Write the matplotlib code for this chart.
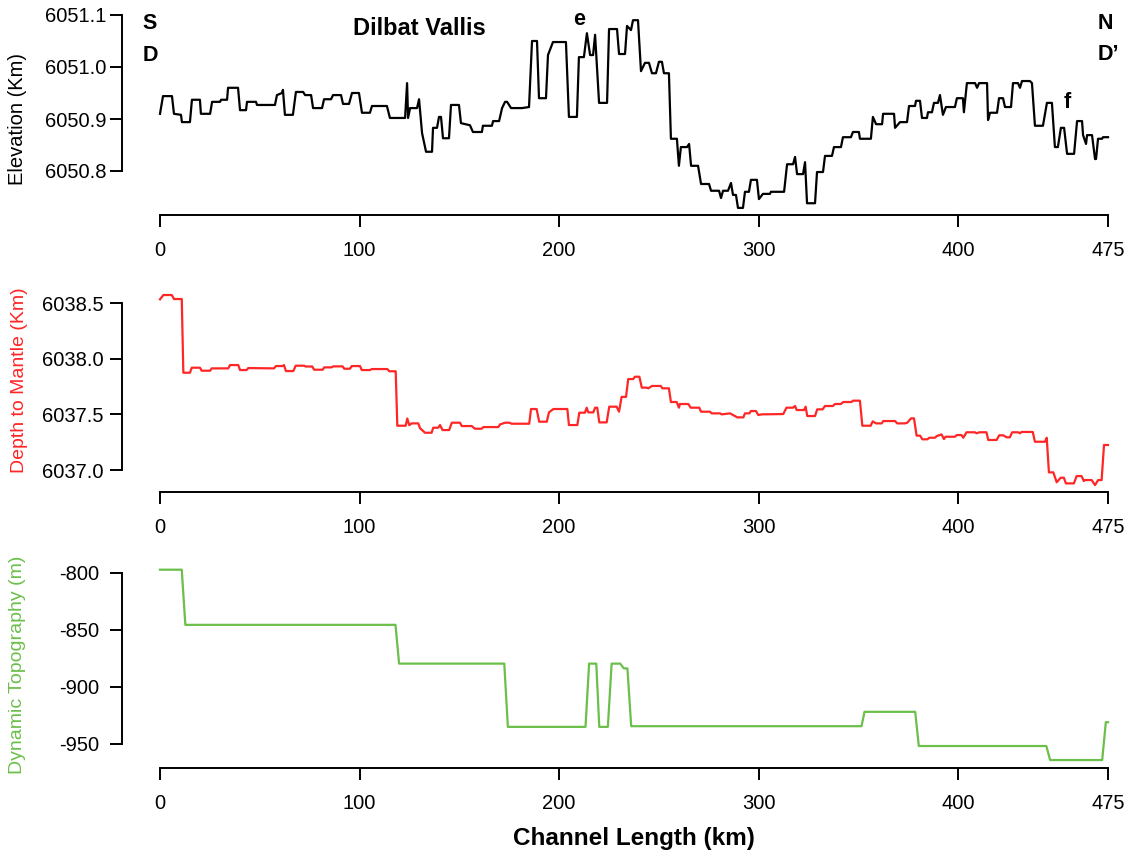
import matplotlib
matplotlib.use("Agg")
import matplotlib.pyplot as plt

plt.rcParams['font.family'] = ['Liberation Sans', 'DejaVu Sans']
plt.rcParams['axes.unicode_minus'] = False

# (channel length km, elevation km) vertices of the Dilbat Vallis profile
elev_profile = [
    (0.0, 6050.910), (1.5, 6050.944), (6.0, 6050.944), (7.0, 6050.910), (10.5, 6050.908),
    (11.0, 6050.894), (15.0, 6050.894), (16.0, 6050.937), (20.0, 6050.937), (20.5, 6050.910),
    (25.1, 6050.910), (26.1, 6050.933), (30.1, 6050.933), (30.6, 6050.937), (33.6, 6050.937),
    (34.1, 6050.960), (39.1, 6050.960), (40.1, 6050.917), (43.1, 6050.917), (43.6, 6050.933),
    (48.1, 6050.933), (48.6, 6050.927), (57.6, 6050.927), (58.6, 6050.946), (61.1, 6050.950),
    (61.6, 6050.956), (62.6, 6050.908), (66.6, 6050.908), (68.1, 6050.952), (71.7, 6050.952),
    (72.7, 6050.946), (75.7, 6050.946), (76.7, 6050.921), (81.2, 6050.921), (82.2, 6050.938),
    (85.7, 6050.938), (86.7, 6050.946), (90.7, 6050.946), (91.7, 6050.929), (94.7, 6050.929),
    (96.2, 6050.950), (99.7, 6050.950), (101.2, 6050.912), (105.2, 6050.912), (106.2, 6050.925),
    (113.7, 6050.925), (115.2, 6050.902), (122.8, 6050.902), (123.8, 6050.969), (124.3, 6050.902),
    (125.3, 6050.921), (128.8, 6050.921), (129.8, 6050.938), (131.3, 6050.873), (133.3, 6050.837),
    (136.3, 6050.837), (136.8, 6050.883), (138.8, 6050.883), (139.8, 6050.904), (140.8, 6050.904),
    (141.8, 6050.863), (144.8, 6050.863), (145.8, 6050.927), (149.8, 6050.927), (150.8, 6050.892),
    (155.3, 6050.888), (156.8, 6050.875), (161.3, 6050.875), (161.8, 6050.887), (166.3, 6050.887),
    (166.9, 6050.896), (169.9, 6050.896), (171.4, 6050.921), (172.9, 6050.933), (173.9, 6050.933),
    (175.9, 6050.921), (181.4, 6050.921), (184.9, 6050.923), (186.4, 6051.050), (188.9, 6051.050),
    (189.9, 6050.940), (193.4, 6050.940), (194.4, 6051.023), (196.9, 6051.048), (203.4, 6051.048),
    (204.9, 6050.904), (208.9, 6050.904), (209.9, 6051.019), (212.4, 6051.019), (213.9, 6051.065),
    (215.5, 6051.023), (217.0, 6051.023), (218.0, 6051.062), (220.0, 6050.931), (224.0, 6050.931),
    (225.0, 6051.073), (229.0, 6051.073), (230.0, 6051.025), (233.0, 6051.025), (234.0, 6051.079),
    (236.0, 6051.071), (237.0, 6051.090), (239.5, 6051.090), (241.0, 6050.992), (243.0, 6051.008),
    (245.0, 6051.008), (246.5, 6050.988), (248.5, 6050.988), (250.0, 6051.010), (251.5, 6051.010),
    (252.5, 6050.988), (255.0, 6050.988), (256.0, 6050.862), (259.0, 6050.862), (260.0, 6050.810),
    (261.0, 6050.846), (264.1, 6050.846), (265.1, 6050.852), (266.1, 6050.810), (269.6, 6050.810),
    (271.1, 6050.775), (275.1, 6050.775), (276.1, 6050.762), (280.1, 6050.762), (281.1, 6050.748),
    (282.1, 6050.762), (284.6, 6050.762), (286.1, 6050.777), (287.1, 6050.754), (288.6, 6050.754),
    (289.6, 6050.729), (292.1, 6050.729), (293.1, 6050.760), (295.1, 6050.760), (296.1, 6050.783),
    (299.1, 6050.783), (300.1, 6050.746), (302.1, 6050.756), (305.6, 6050.756), (306.1, 6050.760),
    (312.7, 6050.760), (314.2, 6050.813), (317.2, 6050.813), (318.2, 6050.827), (319.2, 6050.794),
    (322.2, 6050.794), (323.2, 6050.817), (324.2, 6050.738), (328.2, 6050.738), (329.2, 6050.798),
    (332.2, 6050.798), (333.2, 6050.829), (336.7, 6050.829), (337.7, 6050.846), (341.2, 6050.846),
    (342.2, 6050.865), (346.2, 6050.865), (347.2, 6050.875), (350.2, 6050.875), (350.7, 6050.862),
    (356.2, 6050.862), (357.2, 6050.904), (358.8, 6050.890), (361.8, 6050.890), (362.3, 6050.910),
    (367.8, 6050.910), (368.3, 6050.883), (370.8, 6050.894), (374.3, 6050.894), (375.3, 6050.925),
    (378.3, 6050.925), (378.8, 6050.935), (380.8, 6050.935), (381.8, 6050.902), (384.3, 6050.902),
    (384.8, 6050.913), (386.8, 6050.913), (387.8, 6050.931), (389.8, 6050.931), (390.8, 6050.946),
    (392.3, 6050.908), (393.8, 6050.923), (398.3, 6050.923), (399.3, 6050.940), (402.3, 6050.940),
    (402.8, 6050.913), (404.3, 6050.969), (408.4, 6050.969), (409.4, 6050.960), (410.4, 6050.969),
    (414.4, 6050.969), (414.9, 6050.898), (415.9, 6050.912), (419.4, 6050.912), (420.4, 6050.940),
    (422.4, 6050.940), (423.4, 6050.923), (426.4, 6050.923), (427.4, 6050.969), (429.9, 6050.969),
    (430.9, 6050.960), (431.9, 6050.973), (435.9, 6050.973), (436.9, 6050.969), (438.4, 6050.887),
    (442.4, 6050.887), (444.4, 6050.931), (446.9, 6050.931), (448.4, 6050.846), (449.9, 6050.846),
    (451.4, 6050.883), (453.0, 6050.883), (454.5, 6050.833), (458.0, 6050.833), (459.5, 6050.896),
    (462.0, 6050.896), (462.5, 6050.869), (464.0, 6050.852), (464.5, 6050.869), (467.0, 6050.869),
    (468.5, 6050.823), (469.0, 6050.823), (470.0, 6050.862), (472.0, 6050.862), (472.5, 6050.865),
    (475.0, 6050.865),
]

# (channel length km, depth to mantle km)
mantle_profile = [
    (0.0, 6038.533), (1.7, 6038.572), (5.9, 6038.572), (7.0, 6038.536), (10.9, 6038.536),
    (11.7, 6037.874), (15.0, 6037.874), (15.9, 6037.919), (20.0, 6037.919), (20.9, 6037.892),
    (25.1, 6037.892), (25.9, 6037.913), (34.2, 6037.913), (35.1, 6037.943), (39.2, 6037.943),
    (40.1, 6037.898), (43.4, 6037.898), (44.2, 6037.916), (57.1, 6037.913), (58.1, 6037.934),
    (61.5, 6037.934), (62.1, 6037.943), (63.1, 6037.889), (66.8, 6037.889), (68.0, 6037.937),
    (72.2, 6037.937), (73.0, 6037.930), (76.3, 6037.930), (77.2, 6037.901), (81.5, 6037.901),
    (82.3, 6037.922), (86.0, 6037.922), (86.8, 6037.931), (91.5, 6037.931), (92.3, 6037.910),
    (95.2, 6037.910), (96.1, 6037.934), (100.2, 6037.934), (101.1, 6037.898), (105.2, 6037.898),
    (106.1, 6037.907), (113.9, 6037.907), (114.9, 6037.887), (118.1, 6037.887), (118.9, 6037.398),
    (123.1, 6037.398), (123.9, 6037.463), (124.9, 6037.403), (126.1, 6037.419), (129.4, 6037.419),
    (130.3, 6037.375), (132.8, 6037.335), (136.1, 6037.335), (136.9, 6037.380), (139.4, 6037.380),
    (140.3, 6037.404), (141.6, 6037.359), (144.9, 6037.359), (146.2, 6037.425), (150.3, 6037.425),
    (151.2, 6037.395), (156.2, 6037.395), (157.8, 6037.371), (161.2, 6037.371), (162.0, 6037.386),
    (169.5, 6037.386), (170.4, 6037.410), (172.9, 6037.425), (175.0, 6037.425), (176.2, 6037.416),
    (185.0, 6037.416), (185.9, 6037.548), (188.7, 6037.548), (190.0, 6037.434), (193.8, 6037.434),
    (194.9, 6037.518), (197.1, 6037.548), (204.1, 6037.548), (204.9, 6037.404), (209.1, 6037.404),
    (210.1, 6037.515), (212.9, 6037.515), (213.8, 6037.560), (214.6, 6037.518), (217.1, 6037.518),
    (218.0, 6037.560), (219.1, 6037.560), (220.1, 6037.428), (223.8, 6037.428), (225.1, 6037.569),
    (228.8, 6037.569), (230.0, 6037.524), (231.3, 6037.657), (233.5, 6037.657), (234.6, 6037.817),
    (237.1, 6037.817), (238.0, 6037.838), (240.2, 6037.838), (241.4, 6037.740), (243.8, 6037.740),
    (244.7, 6037.734), (246.5, 6037.755), (250.9, 6037.755), (251.7, 6037.734), (255.0, 6037.734),
    (256.0, 6037.611), (258.9, 6037.611), (260.0, 6037.560), (260.5, 6037.593), (264.7, 6037.593),
    (265.9, 6037.560), (270.2, 6037.560), (271.1, 6037.524), (275.6, 6037.524), (276.4, 6037.509),
    (280.6, 6037.509), (281.4, 6037.500), (285.6, 6037.509), (288.1, 6037.485), (289.3, 6037.473),
    (292.3, 6037.473), (293.1, 6037.509), (295.3, 6037.509), (296.1, 6037.530), (298.6, 6037.530),
    (299.8, 6037.494), (301.5, 6037.500), (312.3, 6037.503), (313.9, 6037.560), (317.2, 6037.560),
    (318.2, 6037.575), (319.0, 6037.539), (322.7, 6037.539), (323.5, 6037.569), (324.3, 6037.485),
    (328.2, 6037.485), (329.3, 6037.545), (332.0, 6037.545), (333.2, 6037.575), (337.1, 6037.575),
    (338.2, 6037.593), (341.1, 6037.593), (342.4, 6037.611), (346.5, 6037.611), (347.2, 6037.623),
    (350.7, 6037.623), (351.9, 6037.398), (356.1, 6037.398), (357.1, 6037.437), (358.8, 6037.419),
    (361.6, 6037.419), (362.4, 6037.440), (368.3, 6037.440), (369.4, 6037.419), (373.3, 6037.419),
    (374.4, 6037.425), (376.3, 6037.464), (377.8, 6037.464), (379.1, 6037.309), (380.8, 6037.309),
    (382.0, 6037.276), (384.5, 6037.276), (385.5, 6037.290), (388.3, 6037.290), (389.2, 6037.305),
    (391.6, 6037.320), (392.8, 6037.278), (393.6, 6037.299), (398.3, 6037.299), (399.2, 6037.314),
    (401.6, 6037.314), (402.5, 6037.290), (404.1, 6037.339), (408.3, 6037.339), (409.2, 6037.330),
    (410.5, 6037.339), (414.1, 6037.339), (415.0, 6037.270), (419.2, 6037.270), (420.5, 6037.312),
    (422.5, 6037.312), (424.2, 6037.294), (425.8, 6037.294), (427.0, 6037.339), (430.0, 6037.339),
    (430.9, 6037.330), (431.7, 6037.342), (437.3, 6037.342), (438.4, 6037.254), (443.4, 6037.254),
    (444.3, 6037.290), (445.4, 6036.979), (447.6, 6036.979), (449.3, 6036.890), (451.3, 6036.931),
    (452.9, 6036.931), (453.9, 6036.880), (457.9, 6036.880), (459.3, 6036.946), (461.7, 6036.946),
    (462.9, 6036.901), (463.5, 6036.910), (466.8, 6036.910), (468.5, 6036.865), (470.1, 6036.910),
    (471.8, 6036.910), (473.0, 6037.225), (475.0, 6037.225),
]

# (channel length km, dynamic topography m)
dyn_profile = [
    (0.0, -797.1), (10.9, -797.1), (12.7, -845.5), (118.0, -845.5), (119.8, -879.5),
    (172.5, -879.5), (174.3, -935.0), (213.2, -935.0), (215.0, -879.5), (218.6, -879.5),
    (220.1, -935.0), (224.4, -935.0), (226.3, -879.5), (230.6, -879.5), (232.4, -883.7),
    (234.2, -883.7), (236.1, -934.4), (351.5, -934.4), (353.0, -921.8), (378.4, -921.8),
    (380.2, -951.8), (444.1, -951.8), (446.0, -964.1), (472.1, -964.1), (473.9, -930.9),
    (475.0, -930.9),
]

x_ticks = [0, 100, 200, 300, 400, 475]
elev_ticks = [6050.8, 6050.9, 6051.0, 6051.1]
mantle_ticks = [6037.0, 6037.5, 6038.0, 6038.5]
dyn_ticks = [-800, -850, -900, -950]

RED = '#FF2626'
GREEN = '#6CBF4A'
W, H = 1136, 855

fig = plt.figure(figsize=(W / 100, H / 100), dpi=100)


def make_axes(top_px, bottom_px, ylim, yticks, ylabels, ypad):
    ax = fig.add_axes([160 / W, 1 - bottom_px / H, 948 / W, (bottom_px - top_px) / H])
    ax.set_xlim(0, 475)
    ax.set_ylim(*ylim)
    for s in ('top', 'right'):
        ax.spines[s].set_visible(False)
    ax.spines['left'].set_position(('outward', 27.4))
    ax.spines['left'].set_bounds(yticks[0], yticks[-1])
    ax.spines['bottom'].set_bounds(0, 475)
    for s in ('left', 'bottom'):
        ax.spines[s].set_linewidth(1.4)
    ax.set_xticks(x_ticks)
    ax.set_xticklabels([str(t) for t in x_ticks])
    ax.set_yticks(yticks)
    ax.set_yticklabels(ylabels)
    ax.tick_params(axis='x', length=8.5, width=1.4, pad=10, labelsize=14.5)
    ax.tick_params(axis='y', length=8.5, width=1.4, pad=ypad, labelsize=14.5)
    ax.patch.set_visible(False)
    return ax


ax1 = make_axes(9.8, 215.2, (6050.715, 6051.11), elev_ticks,
                ['%.1f' % t for t in elev_ticks], 2.5)
ax1.plot([p[0] for p in elev_profile], [p[1] for p in elev_profile],
         color='black', lw=1.6, clip_on=False)

ax2 = make_axes(291.9, 492.3, (6036.80, 6038.60), mantle_ticks,
                ['%.1f' % t for t in mantle_ticks], 5)
ax2.plot([p[0] for p in mantle_profile], [p[1] for p in mantle_profile],
         color=RED, lw=1.6, clip_on=False)

ax3 = make_axes(567.3, 767.9, (-971, -795), dyn_ticks,
                ['%d' % t for t in dyn_ticks], 8)
ax3.plot([p[0] for p in dyn_profile], [p[1] for p in dyn_profile],
         color=GREEN, lw=1.6, clip_on=False)

# axis titles
fig.text(18 / W, 1 - 119 / H, 'Elevation (Km)', rotation=90, ha='center', va='center', fontsize=14.5)
fig.text(20 / W, 1 - 380 / H, 'Depth to Mantle (Km)', rotation=90, ha='center', va='center',
         fontsize=14, color=RED)
fig.text(18 / W, 1 - 665 / H, 'Dynamic Topography (m)', rotation=90, ha='center', va='center',
         fontsize=14, color=GREEN)
fig.text(634 / W, 1 - 838 / H, 'Channel Length (km)', ha='center', va='center',
         fontsize=17.5, fontweight='bold')

# annotations on the elevation panel
kw = dict(fontweight='bold', fontsize=15.5, ha='center', va='center_baseline', clip_on=False)
ax1.text(-5.0, 6051.089, 'S', **kw)
ax1.text(-5.0, 6051.027, 'D', **kw)
ax1.text(129.8, 6051.078, 'Dilbat Vallis', fontweight='bold', fontsize=17,
         ha='center', va='center_baseline')
ax1.text(209.9, 6051.096, 'e', **kw)
ax1.text(473.5, 6051.089, 'N', **kw)
ax1.text(475.0, 6051.029, 'D\u2019', **kw)
ax1.text(454.4, 6050.936, 'f', **kw)

fig.savefig('out.png', dpi=100)
